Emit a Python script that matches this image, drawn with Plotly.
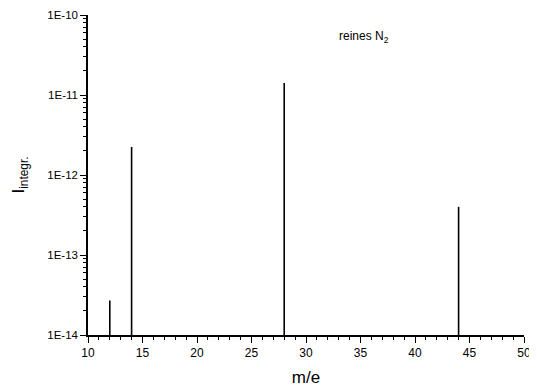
import plotly.graph_objects as go

# Data
mass = [12, 14, 28, 44]
intensity = [2.7e-14, 2.24e-12, 1.41e-11, 4.0e-13]

y_tickvals = [1e-14, 1e-13, 1e-12, 1e-11, 1e-10]
y_ticktext = ["1E-14", "1E-13", "1E-12", "1E-11", "1E-10"]
x_tickvals = [10, 15, 20, 25, 30, 35, 40, 45, 50]

y_min, y_max = 1e-14, 1e-10
x_min, x_max = 10, 50

# Build stick segments from the axis floor to each value
xs, ys = [], []
for m, v in zip(mass, intensity):
    xs += [m, m, None]
    ys += [y_min, v, None]

minor_y = [k * 10.0 ** e for e in range(-14, -10) for k in range(2, 10)]

fig = go.Figure()
fig.add_trace(go.Scatter(x=xs, y=ys, mode="lines",
                         line=dict(color="black", width=1.6),
                         showlegend=False, hoverinfo="skip"))

font = dict(family="Liberation Sans, Arial, sans-serif", color="black")

# page body has an 8px default margin, so the figure is sized to compensate
fig.update_layout(
    width=529, height=383,
    margin=dict(l=80, r=13, t=7, b=56),
    paper_bgcolor="white", plot_bgcolor="white",
    font=dict(**font, size=11),
    xaxis=dict(
        range=[x_min, x_max], tickvals=x_tickvals, automargin=False,
        ticks="outside", ticklen=6, tickwidth=1, tickcolor="black",
        showline=True, linecolor="black", linewidth=1.5,
        showgrid=False, zeroline=False,
        tickfont=dict(**font, size=12),
        minor=dict(dtick=1, ticks="outside", ticklen=3, tickcolor="black", showgrid=False),
        title=dict(text="m/e", font=dict(**font, size=17), standoff=12),
    ),
    yaxis=dict(
        type="log", range=[-14, -10], automargin=False,
        tickvals=y_tickvals, ticktext=y_ticktext,
        ticks="outside", ticklen=6, tickwidth=1, tickcolor="black",
        showline=True, linecolor="black", linewidth=1.5,
        showgrid=False, zeroline=False,
        tickfont=dict(**font, size=11.5),
        minor=dict(tickvals=minor_y, ticks="outside", ticklen=3, tickcolor="black", showgrid=False),
        title=dict(text="I<sub>integr.</sub>", font=dict(**font, size=17), standoff=18),
    ),
    annotations=[dict(
        x=0.571, y=0.93, xref="paper", yref="paper", xanchor="left", yanchor="middle",
        text="reines N<sub>2</sub>", showarrow=False, font=dict(**font, size=12),
    )],
)

fig.write_html("out.html")
